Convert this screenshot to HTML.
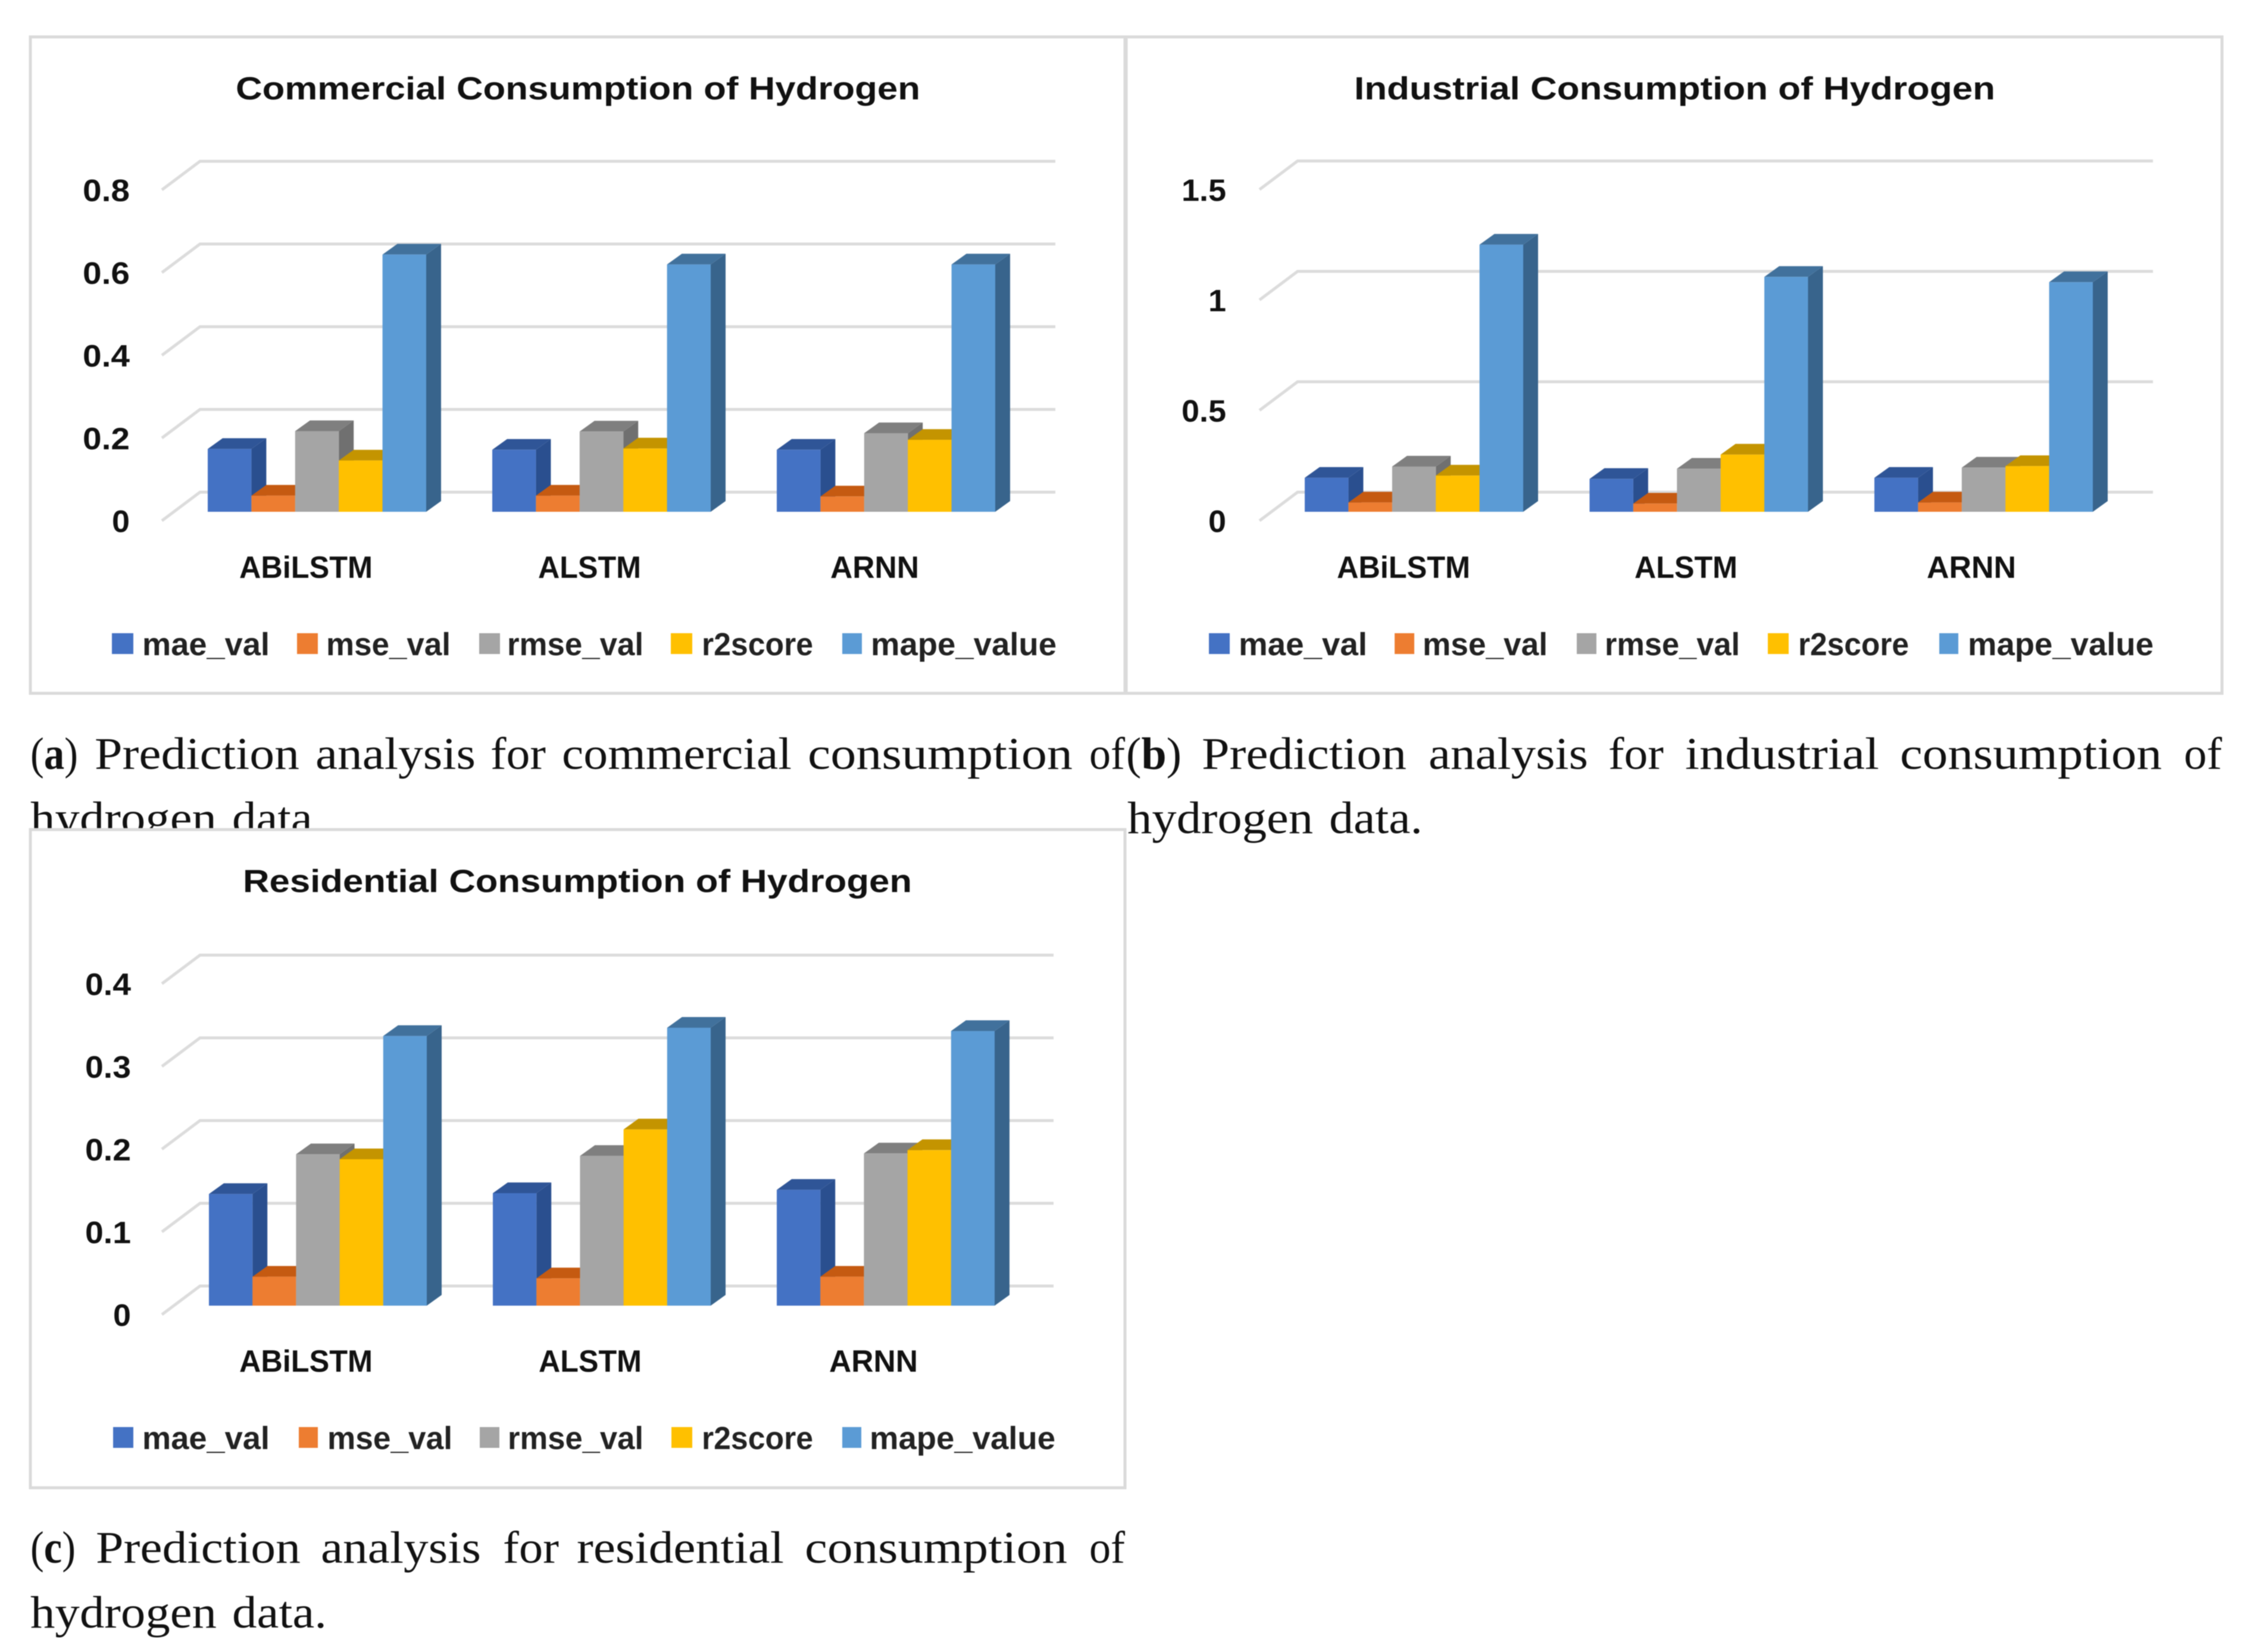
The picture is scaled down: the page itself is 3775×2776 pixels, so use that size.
<!DOCTYPE html>
<html lang="en">
<head>
<meta charset="utf-8">
<title>Prediction analysis for hydrogen consumption</title>
<style>
html,body{margin:0;padding:0;background:#fff;width:3775px;height:2776px;overflow:hidden}
svg{display:block;filter:blur(0.7px)}
.cap{font-family:"Liberation Serif",serif;font-size:76px;fill:#111}
.cap-b{font-weight:bold}
.chart-title,.tick,.cat,.leg{font-family:"Liberation Sans",sans-serif;font-weight:bold}
</style>
</head>
<body>
<svg id="figure" xmlns="http://www.w3.org/2000/svg" width="3775" height="2776" viewBox="0 0 3775 2776">
  <rect x="0" y="0" width="3775" height="2776" fill="#fff"/>
  <g class="cap">
    <text x="51" y="1292" textLength="80" lengthAdjust="spacingAndGlyphs">(<tspan class="cap-b">a</tspan>)</text>
    <text x="159" y="1292" textLength="344" lengthAdjust="spacingAndGlyphs">Prediction</text>
    <text x="530" y="1292" textLength="269" lengthAdjust="spacingAndGlyphs">analysis</text>
    <text x="824" y="1292" textLength="93" lengthAdjust="spacingAndGlyphs">for</text>
    <text x="944" y="1292" textLength="386" lengthAdjust="spacingAndGlyphs">commercial</text>
    <text x="1357" y="1292" textLength="445" lengthAdjust="spacingAndGlyphs">consumption</text>
    <text x="1830" y="1292" textLength="60" lengthAdjust="spacingAndGlyphs">of</text>
    <text x="51" y="1400" textLength="313" lengthAdjust="spacingAndGlyphs">hydrogen</text>
    <text x="390" y="1400" textLength="155" lengthAdjust="spacingAndGlyphs">data.</text>
  </g>
  <g class="cap">
    <text x="1892" y="1292" textLength="93" lengthAdjust="spacingAndGlyphs">(<tspan class="cap-b">b</tspan>)</text>
    <text x="2019" y="1292" textLength="344" lengthAdjust="spacingAndGlyphs">Prediction</text>
    <text x="2400" y="1292" textLength="268" lengthAdjust="spacingAndGlyphs">analysis</text>
    <text x="2702" y="1292" textLength="93" lengthAdjust="spacingAndGlyphs">for</text>
    <text x="2831" y="1292" textLength="326" lengthAdjust="spacingAndGlyphs">industrial</text>
    <text x="3192" y="1292" textLength="440" lengthAdjust="spacingAndGlyphs">consumption</text>
    <text x="3669" y="1292" textLength="64" lengthAdjust="spacingAndGlyphs">of</text>
    <text x="1894" y="1400" textLength="312" lengthAdjust="spacingAndGlyphs">hydrogen</text>
    <text x="2233" y="1400" textLength="157" lengthAdjust="spacingAndGlyphs">data.</text>
  </g>
  <g class="cap">
    <text x="51" y="2626" textLength="76" lengthAdjust="spacingAndGlyphs">(<tspan class="cap-b">c</tspan>)</text>
    <text x="161" y="2626" textLength="344" lengthAdjust="spacingAndGlyphs">Prediction</text>
    <text x="539" y="2626" textLength="269" lengthAdjust="spacingAndGlyphs">analysis</text>
    <text x="845" y="2626" textLength="94" lengthAdjust="spacingAndGlyphs">for</text>
    <text x="969" y="2626" textLength="348" lengthAdjust="spacingAndGlyphs">residential</text>
    <text x="1352" y="2626" textLength="441" lengthAdjust="spacingAndGlyphs">consumption</text>
    <text x="1830" y="2626" textLength="60" lengthAdjust="spacingAndGlyphs">of</text>
    <text x="51" y="2735" textLength="313" lengthAdjust="spacingAndGlyphs">hydrogen</text>
    <text x="390" y="2735" textLength="159" lengthAdjust="spacingAndGlyphs">data.</text>
  </g>
</svg>
<script>
// Shared chart data
const categories = ['ABiLSTM', 'ALSTM', 'ARNN'];
const seriesNames = ['mae_val', 'mse_val', 'rmse_val', 'r2score', 'mape_value'];

// Commercial values per series (ABiLSTM, ALSTM, ARNN)
const commercialMae = [0.152, 0.150, 0.150];
const commercialMse = [0.039, 0.039, 0.037];
const commercialRmse = [0.195, 0.194, 0.190];
const commercialR2 = [0.124, 0.153, 0.174];
const commercialMape = [0.622, 0.598, 0.598];
const commercialTicks = [0, 0.2, 0.4, 0.6, 0.8];
const commercialTickLabels = ['0', '0.2', '0.4', '0.6', '0.8'];

// Industrial values per series
const industrialMae = [0.154, 0.149, 0.154];
const industrialMse = [0.042, 0.037, 0.042];
const industrialRmse = [0.205, 0.195, 0.200];
const industrialR2 = [0.164, 0.259, 0.207];
const industrialMape = [1.21, 1.064, 1.04];
const industrialTicks = [0, 0.5, 1, 1.5];
const industrialTickLabels = ['0', '0.5', '1', '1.5'];

// Residential values per series
const residentialMae = [0.135, 0.136, 0.140];
const residentialMse = [0.035, 0.033, 0.035];
const residentialRmse = [0.183, 0.181, 0.184];
const residentialR2 = [0.177, 0.213, 0.188];
const residentialMape = [0.326, 0.336, 0.332];
const residentialTicks = [0, 0.1, 0.2, 0.3, 0.4];
const residentialTickLabels = ['0', '0.1', '0.2', '0.3', '0.4'];

// Styling, per series: front, top, side
const frontColors = ['#4472c4', '#ed7d31', '#a5a5a5', '#ffc000', '#5b9bd5'];
const topColors = ['#2f5597', '#c55a11', '#7f7f7f', '#c49400', '#41719c'];
const sideColors = ['#2a4f8f', '#ae4f0f', '#707070', '#a87f00', '#38648c'];

const SVG_NS = 'http://www.w3.org/2000/svg';
const figure = document.getElementById('figure');
const DEPTH_X = 25, DEPTH_Y = 18;      // 3-D offset of a bar
const WALL_DX = 64, WALL_DY = 48;      // slant of the floor/wall lines
const WALL_GAP = 33;                   // back-wall zero above the bars' front base

function make(tag, parent, attrs) {
  const el = document.createElementNS(SVG_NS, tag);
  for (const k in attrs) el.setAttribute(k, attrs[k]);
  parent.appendChild(el);
  return el;
}

function drawPanel(p) {
  const yOf = v => p.baseY - v * p.pxPerUnit;
  const wallY = v => yOf(v) - WALL_GAP;
  const barLeft = (g, s) => p.barStart + g * p.groupStep + s * p.barWidth;

  const panel = make('g', figure, {});
  
  

  const frame = make('rect', panel, {
    x: p.frame[0], y: p.frame[1], width: p.frame[2] - p.frame[0], height: p.frame[3] - p.frame[1],
    fill: '#fff', stroke: '#dadada', 'stroke-width': 5
  });
  
  

  const title = make('text', panel, {
    class: 'chart-title', x: p.title[0], y: p.titleY, textLength: p.title[1] - p.title[0],
    lengthAdjust: 'spacingAndGlyphs', 'font-size': 54, fill: '#111'
  });
  title.textContent = p.titleText;
  
  

  p.ticks.forEach((v, i) => {
    const y = wallY(v);
    const grid = make('path', panel, {
      d: 'M' + (p.wallLeft - WALL_DX) + ' ' + (y + WALL_DY) + 'L' + p.wallLeft + ' ' + y + 'L' + p.wallRight + ' ' + y,
      fill: 'none', stroke: '#dcdcdc', 'stroke-width': 5
    });
    
    

    const label = p.tickLabels[i];
    const w = label.length > 1 ? p.tickWidth : 30;
    const tick = make('text', panel, {
      class: 'tick', x: p.tickRight - w, y: y + 49 + 18, textLength: w,
      lengthAdjust: 'spacingAndGlyphs', 'font-size': 52, fill: '#111'
    });
    tick.textContent = label;
    
    
  });

  categories.forEach((cat, g) => {
    p.series.forEach((values, s) => {
      const x0 = barLeft(g, s), x1 = barLeft(g, s + 1), top = yOf(values[g]), bottom = p.baseY;
      const bar = make('g', panel, {});
      
      
      make('path', bar, {
        d: 'M' + x1 + ' ' + top + 'L' + (x1 + DEPTH_X) + ' ' + (top - DEPTH_Y) + 'L' + (x1 + DEPTH_X) + ' ' + (bottom - DEPTH_Y) + 'L' + x1 + ' ' + bottom + 'Z',
        fill: sideColors[s]
      });
      make('path', bar, {
        d: 'M' + x0 + ' ' + top + 'L' + (x0 + DEPTH_X) + ' ' + (top - DEPTH_Y) + 'L' + (x1 + DEPTH_X) + ' ' + (top - DEPTH_Y) + 'L' + x1 + ' ' + top + 'Z',
        fill: topColors[s]
      });
      make('rect', bar, { x: x0, y: top, width: x1 - x0, height: bottom - top, fill: frontColors[s] });
    });

    const c = p.catSpans[g];
    const catLabel = make('text', panel, {
      class: 'cat', x: c[0], y: p.catY, textLength: c[1] - c[0],
      lengthAdjust: 'spacingAndGlyphs', 'font-size': 52, fill: '#111'
    });
    catLabel.textContent = cat;
    
    
  });

  seriesNames.forEach((name, s) => {
    const l = p.legend[s];
    const swatch = make('rect', panel, {
      x: l[0], y: p.legendY - 18, width: l[1] - l[0], height: 35, fill: frontColors[s]
    });
    
    
    const text = make('text', panel, {
      class: 'leg', x: l[2], y: p.legendY + 19, textLength: l[3] - l[2],
      lengthAdjust: 'spacingAndGlyphs', 'font-size': 54, fill: '#222'
    });
    text.textContent = name;
    
    
  });
}

drawPanel({
  id: 'commercial', titleText: 'Commercial Consumption of Hydrogen',
  frame: [51, 62, 1890, 1165], title: [396, 1546], titleY: 167,
  series: [commercialMae, commercialMse, commercialRmse, commercialR2, commercialMape],
  ticks: commercialTicks, tickLabels: commercialTickLabels,
  baseY: 860, pxPerUnit: 695, barStart: 349, groupStep: 478, barWidth: 73.4,
  wallLeft: 336, wallRight: 1773, tickRight: 218, tickWidth: 79,
  catY: 971, catSpans: [[402, 626], [904, 1077], [1395, 1544]],
  legendY: 1082,
  legend: [[188, 224, 239, 453], [499, 534, 548, 757], [805, 840, 852, 1081], [1127, 1163, 1179, 1366], [1415, 1448, 1463, 1775]]
});

drawPanel({
  id: 'industrial', titleText: 'Industrial Consumption of Hydrogen',
  frame: [1892, 62, 3733, 1165], title: [2275, 3352], titleY: 167,
  series: [industrialMae, industrialMse, industrialRmse, industrialR2, industrialMape],
  ticks: industrialTicks, tickLabels: industrialTickLabels,
  baseY: 860, pxPerUnit: 371, barStart: 2192, groupStep: 478.5, barWidth: 73.4,
  wallLeft: 2180, wallRight: 3617, tickRight: 2060, tickWidth: 75,
  catY: 971, catSpans: [[2246, 2470], [2746, 2919], [3237, 3387]],
  legendY: 1082,
  legend: [[2031, 2066, 2081, 2297], [2343, 2376, 2390, 2600], [2649, 2682, 2696, 2923], [2970, 3005, 3021, 3207], [3258, 3290, 3306, 3618]]
});

drawPanel({
  id: 'residential', titleText: 'Residential Consumption of Hydrogen',
  frame: [51, 1394, 1890, 2500], title: [408, 1532], titleY: 1499,
  series: [residentialMae, residentialMse, residentialRmse, residentialR2, residentialMape],
  ticks: residentialTicks, tickLabels: residentialTickLabels,
  baseY: 2194, pxPerUnit: 1390, barStart: 351, groupStep: 477, barWidth: 73.2,
  wallLeft: 336, wallRight: 1770, tickRight: 220, tickWidth: 77,
  catY: 2305, catSpans: [[402, 626], [905, 1078], [1393, 1542]],
  legendY: 2416,
  legend: [[190, 224, 239, 453], [502, 534, 550, 760], [806, 839, 853, 1081], [1128, 1163, 1179, 1366], [1415, 1447, 1461, 1773]]
});
</script>
</body>
</html>
